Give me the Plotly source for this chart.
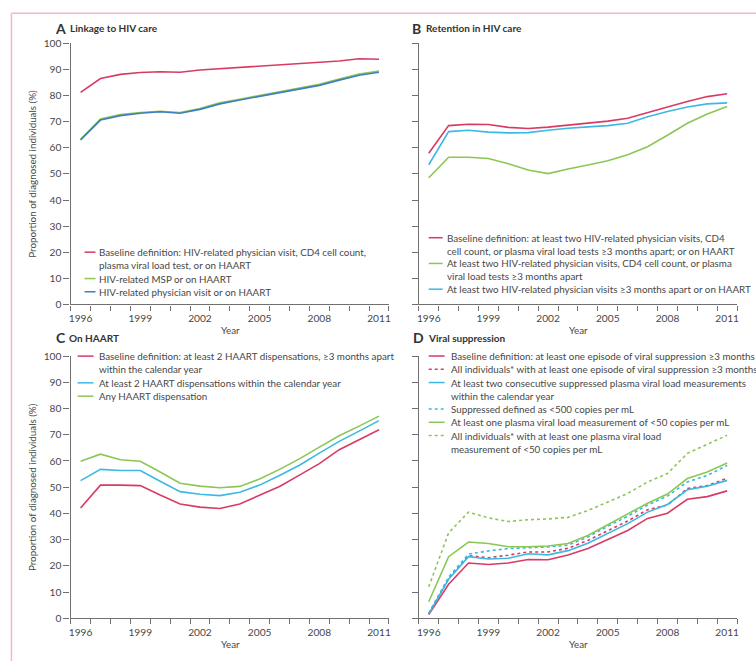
import plotly.graph_objects as go

W, H = 756, 661

years = list(range(1996, 2012))
year_ticks = [1996, 1999, 2002, 2005, 2008, 2011]
y_ticks = list(range(0, 101, 10))

# A: linkage to HIV care
link_baseline = [81.2, 86.5, 88.1, 88.8, 89.1, 88.9, 89.8, 90.3, 90.8, 91.2, 91.7, 92.2, 92.8, 93.2, 94.1, 93.9]
link_msp = [63.2, 71.0, 72.7, 73.5, 74.0, 73.5, 75.0, 77.2, 78.6, 80.0, 81.4, 82.7, 84.3, 86.3, 88.2, 89.4]
link_physician = [63.0, 70.6, 72.3, 73.2, 73.8, 73.2, 74.7, 76.8, 78.3, 79.7, 81.0, 82.3, 83.9, 85.9, 87.8, 88.9]

# B: retention in HIV care
ret_baseline = [57.9, 68.5, 69.0, 68.9, 67.8, 67.4, 67.9, 68.7, 69.4, 70.2, 71.3, 73.3, 75.6, 77.7, 79.6, 80.7]
ret_no_haart = [48.5, 56.4, 56.4, 55.9, 53.9, 51.5, 50.1, 51.9, 53.4, 55.0, 57.3, 60.4, 64.8, 69.4, 72.9, 75.8]
ret_physician = [53.5, 66.2, 66.7, 66.0, 65.7, 65.8, 66.7, 67.5, 68.0, 68.5, 69.4, 71.9, 73.9, 75.6, 76.8, 77.2]

# C: on HAART
haart_baseline = [42.1, 50.8, 50.8, 50.6, 47.0, 43.6, 42.4, 41.9, 43.6, 46.8, 50.3, 54.6, 59.0, 64.3, 68.1, 71.9]
haart_two = [52.5, 56.8, 56.4, 56.4, 52.3, 48.3, 47.3, 46.8, 48.1, 50.8, 54.5, 58.4, 63.0, 67.5, 71.4, 75.4]
haart_any = [59.9, 62.6, 60.5, 59.9, 55.8, 51.5, 50.4, 49.8, 50.3, 53.1, 56.8, 60.8, 65.3, 69.6, 73.3, 77.1]

# D: viral suppression
vs_baseline = [1.4, 13.0, 21.1, 20.5, 21.1, 22.4, 22.3, 24.1, 26.6, 30.1, 33.5, 38.1, 40.1, 45.4, 46.4, 48.6]
vs_baseline_all = [1.7, 15.1, 23.9, 23.1, 24.1, 25.3, 25.3, 26.7, 29.7, 33.5, 37.1, 41.4, 43.2, 49.5, 50.6, 53.4]
vs_consecutive = [1.7, 14.9, 23.5, 22.6, 22.9, 24.6, 24.2, 25.8, 28.6, 32.4, 36.1, 40.5, 43.4, 49.0, 50.4, 52.6]
vs_under500 = [2.0, 15.7, 24.5, 25.7, 26.6, 26.9, 27.2, 27.9, 31.0, 35.1, 38.9, 43.2, 46.6, 52.0, 54.5, 58.3]
vs_under50 = [6.3, 23.5, 29.1, 28.5, 27.3, 27.3, 27.6, 28.5, 31.6, 35.7, 39.7, 43.9, 47.4, 53.3, 55.8, 59.2]
vs_under50_all = [12.0, 32.6, 40.5, 38.3, 36.9, 37.6, 37.9, 38.5, 41.1, 44.5, 47.6, 52.0, 55.2, 62.9, 66.2, 69.8]

RED = "#d93a63"
GREEN = "#8cc653"
CYAN = "#3cb9e3"
BLUE = "#3f7fc0"
AXIS = "#707070"
TEXT = "#474747"
HEAD = "#333333"
FONT = "Lato, Liberation Sans, Arial, sans-serif"
TXT_SIZE = 9.8


def fx(px):
    return px / W


def fy(py):
    return 1 - py / H


panels = {
    "A": dict(x=(69, 389), y=(38, 304), title="Linkage to HIV care", labels=True,
              head=dict(letter=52, text=67, y=22.7),
              series=[(link_baseline, RED, "solid"), (link_msp, GREEN, "solid"),
                      (link_physician, BLUE, "solid")],
              legend=dict(y0=250.7, step=13.45, lx=(83, 94), tx=97,
                          items=[(["Baseline definition: HIV-related physician visit, CD4 cell count,",
                                   "plasma viral load test, or on HAART"], RED, "solid"),
                                 (["HIV-related MSP or on HAART"], GREEN, "solid"),
                                 (["HIV-related physician visit or on HAART"], BLUE, "solid")])),
    "B": dict(x=(419, 739), y=(38, 304), title="Retention in HIV care", labels=False,
              head=dict(letter=411, text=425.7, y=22.7),
              series=[(ret_baseline, RED, "solid"), (ret_no_haart, GREEN, "solid"),
                      (ret_physician, CYAN, "solid")],
              legend=dict(y0=236, step=13.1, lx=(429, 443), tx=446,
                          items=[(["Baseline definition: at least two HIV-related physician visits, CD4",
                                   "cell count, or plasma viral load tests ≥3 months apart; or on HAART"], RED, "solid"),
                                 (["At least two HIV-related physician visits, CD4 cell count, or plasma",
                                   "viral load tests ≥3 months apart"], GREEN, "solid"),
                                 (["At least two HIV-related physician visits ≥3 months apart or on HAART"], CYAN, "solid")])),
    "C": dict(x=(69, 389), y=(356.6, 623.6), title="On HAART", labels=True,
              head=dict(letter=53, text=66, y=338),
              series=[(haart_baseline, RED, "solid"), (haart_two, CYAN, "solid"),
                      (haart_any, GREEN, "solid")],
              legend=dict(y0=356.6, step=13.6, lx=(76, 92), tx=97,
                          items=[(["Baseline definition: at least 2 HAART dispensations, ≥3 months apart",
                                   "within the calendar year"], RED, "solid"),
                                 (["At least 2 HAART dispensations within the calendar year"], CYAN, "solid"),
                                 (["Any HAART dispensation"], GREEN, "solid")])),
    "D": dict(x=(419, 739), y=(356.6, 623.6), title="Viral suppression", labels=False,
              head=dict(letter=412.5, text=427, y=338),
              series=[(vs_baseline, RED, "solid"), (vs_baseline_all, RED, "dot"),
                      (vs_consecutive, CYAN, "solid"), (vs_under500, CYAN, "dot"),
                      (vs_under50, GREEN, "solid"), (vs_under50_all, GREEN, "dot")],
              legend=dict(y0=356.5, step=13.5, lx=(429, 445), tx=450,
                          items=[(["Baseline definition: at least one episode of viral suppression ≥3 months"], RED, "solid"),
                                 (["All individuals* with at least one episode of viral suppression ≥3 months"], RED, "dot"),
                                 (["At least two consecutive suppressed plasma viral load measurements",
                                   "within the calendar year"], CYAN, "solid"),
                                 (["Suppressed defined as <500 copies per mL"], CYAN, "dot"),
                                 (["At least one plasma viral load measurement of <50 copies per mL"], GREEN, "solid"),
                                 (["All individuals* with at least one plasma viral load",
                                   "measurement of <50 copies per mL"], GREEN, "dot")])),
}

fig = go.Figure()
annotations = []
shapes = []

for i, (key, p) in enumerate(panels.items(), start=1):
    sfx = "" if i == 1 else str(i)
    xa, ya = "x" + sfx, "y" + sfx
    for vals, color, dash in p["series"]:
        fig.add_trace(go.Scatter(x=years, y=vals, mode="lines", xaxis=xa, yaxis=ya,
                                 line=dict(color=color, width=1.6, dash=dash),
                                 showlegend=False, hoverinfo="skip"))
    x0, x1 = p["x"]
    y0, y1 = p["y"]
    fig.layout["xaxis" + sfx] = dict(
        domain=[fx(x0), fx(x1)], anchor=ya, range=[1995.5, 2011.5],
        showline=True, linecolor=AXIS, linewidth=1.4, showgrid=False, zeroline=False,
        tickmode="array", tickvals=year_ticks, ticktext=[str(v) for v in year_ticks],
        ticks="outside", ticklen=4, tickcolor="rgba(0,0,0,0)",
        tickfont=dict(family=FONT, size=10.2, color=TEXT),
        minor=dict(tickmode="array", tickvals=[1995.5 + k for k in range(17)],
                   ticks="outside", ticklen=5, tickwidth=1.2, tickcolor=AXIS),
    )
    fig.layout["yaxis" + sfx] = dict(
        domain=[fy(y1), fy(y0)], anchor=xa, range=[0, 100],
        showline=True, linecolor=AXIS, linewidth=1.4, showgrid=False, zeroline=False,
        tickmode="array", tickvals=y_ticks, showticklabels=p["labels"],
        ticks="outside", ticklen=6, tickwidth=1.2, tickcolor=AXIS,
        tickfont=dict(family=FONT, size=10.2, color=TEXT),
    )

    # panel heading: letter and title
    hd = p["head"]
    annotations.append(dict(xref="paper", yref="paper", x=fx(hd["letter"]), y=fy(hd["y"]),
                            xanchor="left", yanchor="middle", showarrow=False,
                            text="<b>" + key + "</b>", borderpad=0,
                            font=dict(family=FONT, size=14, color=HEAD)))
    annotations.append(dict(xref="paper", yref="paper", x=fx(hd["text"]), y=fy(hd["y"]),
                            xanchor="left", yanchor="middle", showarrow=False,
                            text="<b>" + p["title"] + "</b>", borderpad=0,
                            font=dict(family=FONT, size=10, color=HEAD)))

    # x-axis title
    annotations.append(dict(xref="paper", yref="paper", x=fx((x0 + x1) / 2 + 0.5), y=fy(y1 + 26),
                            xanchor="center", yanchor="middle", showarrow=False, text="Year",
                            font=dict(family=FONT, size=TXT_SIZE, color=TEXT)))
    # y-axis title
    if p["labels"]:
        annotations.append(dict(xref="paper", yref="paper", x=fx(30), y=fy((y0 + y1) / 2),
                                xanchor="center", yanchor="middle", showarrow=False, textangle=-90,
                                text="Proportion of diagnosed individuals (%)",
                                font=dict(family=FONT, size=TXT_SIZE, color=TEXT)))

    # key
    lg = p["legend"]
    row = 0
    for lines, color, dash in lg["items"]:
        ry = lg["y0"] + row * lg["step"]
        shapes.append(dict(type="line", xref="paper", yref="paper",
                           x0=fx(lg["lx"][0]), x1=fx(lg["lx"][1]), y0=fy(ry), y1=fy(ry),
                           line=dict(color=color, width=1.5, dash=dash)))
        for ln in lines:
            ry = lg["y0"] + row * lg["step"]
            annotations.append(dict(xref="paper", yref="paper", x=fx(lg["tx"]), y=fy(ry),
                                    xanchor="left", yanchor="middle", showarrow=False, text=ln,
                                    borderpad=0,
                                    font=dict(family=FONT, size=TXT_SIZE, color=TEXT)))
            row += 1

# outer frame
shapes.append(dict(type="line", xref="paper", yref="paper", x0=fx(9.5), x1=1.01, y0=fy(7.3), y1=fy(7.3),
                   line=dict(color="#f2b8c6", width=1.5)))
shapes.append(dict(type="line", xref="paper", yref="paper", x0=fx(9.5), x1=fx(9.5), y0=fy(7.3), y1=-0.01,
                   line=dict(color="#f2b8c6", width=1.5)))

fig.update_layout(width=W, height=H, margin=dict(l=0, r=0, t=0, b=0),
                  paper_bgcolor="white", plot_bgcolor="white",
                  annotations=annotations, shapes=shapes, showlegend=False)

fig.write_html("out.html")
